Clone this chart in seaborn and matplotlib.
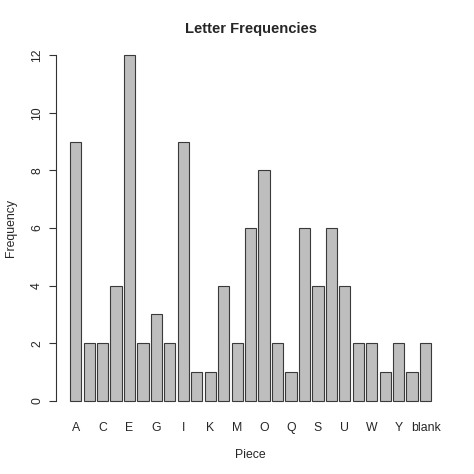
import matplotlib
matplotlib.use('Agg')
import matplotlib.pyplot as plt
import seaborn as sns

# Scrabble tile counts
pieces = ['A', 'B', 'C', 'D', 'E', 'F', 'G', 'H', 'I', 'J', 'K', 'L', 'M',
          'N', 'O', 'P', 'Q', 'R', 'S', 'T', 'U', 'V', 'W', 'X', 'Y', 'Z', 'blank']
freqs = [9, 2, 2, 4, 12, 2, 3, 2, 9, 1, 1, 4, 2,
         6, 8, 2, 1, 6, 4, 6, 4, 2, 2, 1, 2, 1, 2]
yticks = [0, 2, 4, 6, 8, 10, 12]

sns.set_style('white')
plt.rcParams['font.family'] = ['Liberation Sans', 'DejaVu Sans']

fig = plt.figure(figsize=(4.74, 4.74), dpi=100)
ax = fig.add_axes([0.1173, 0.1249, 0.8228, 0.7881])

sns.barplot(x=pieces, y=freqs, order=pieces, color='#BEBEBE', saturation=1,
            edgecolor='#3a3a3a', linewidth=0.8, width=1 / 1.2, ax=ax)

n = len(pieces)
left, right = -0.5 / 1.2, n - 1 + 0.5 / 1.2
ext = (right - left) * 0.04
ax.set_xlim(left - ext, right + ext)
ax.set_ylim(-0.48, 12.48)

for s in ['top', 'right', 'bottom']:
    ax.spines[s].set_visible(False)
ax.spines['left'].set_bounds(0, 12)
ax.spines['left'].set_color('#333333')
ax.spines['left'].set_linewidth(0.8)

ax.set_yticks(yticks)
ax.set_yticklabels([str(v) for v in yticks], rotation=90, va='center')
ax.tick_params(axis='y', length=5, width=0.8, color='#333333', pad=4, labelsize=8.8, left=True)
ax.set_xticks(range(n))
ax.set_xticklabels([p if i % 2 == 0 else '' for i, p in enumerate(pieces)])
ax.tick_params(axis='x', length=0, pad=5, labelsize=8.8)

ax.set_xlabel('Piece', fontsize=8.8, labelpad=11)
ax.set_ylabel('Frequency', fontsize=8.8, labelpad=10)
ax.set_title('Letter Frequencies', fontsize=10.6, fontweight='bold', pad=6)

fig.savefig('out.png', dpi=100)
